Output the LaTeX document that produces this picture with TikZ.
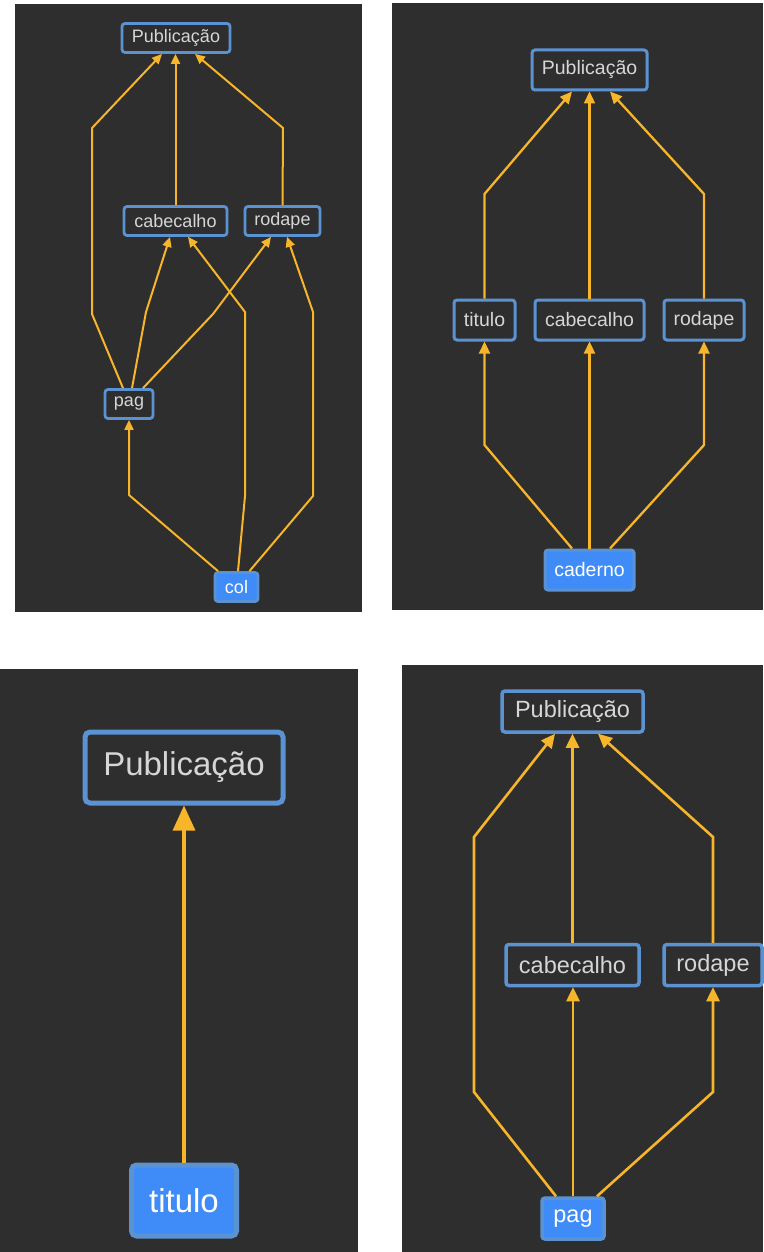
\documentclass[tikz,border=0pt]{standalone}
\usepackage{fontspec}
\setmainfont{Liberation Sans}
\usetikzlibrary{arrows.meta}
\definecolor{bgdark}{RGB}{46,46,46}
\definecolor{boxblue}{RGB}{91,147,210}
\definecolor{fillblue}{RGB}{63,140,248}
\definecolor{edgeorange}{RGB}{246,181,43}
\definecolor{txtgray}{RGB}{214,214,214}
\tikzset{
  box/.style={draw=boxblue, fill=bgdark, rounded corners=3pt, text=txtgray,
    inner sep=0pt, anchor=center},
  rootbox/.style={box, fill=fillblue, text=white},
  edge/.style={draw=edgeorange, line join=miter},
  fs/.style={font=\fontsize{#1}{#1}\selectfont},
}
\begin{document}
\begin{tikzpicture}[x=1pt, y=-1pt]
\useasboundingbox (0,0) rectangle (763,1252);
\fill[white] (0,0) rectangle (763,1252);

% ---------- graph: col ----------
\begin{scope}[box/.append style={line width=2.8pt, fs=18, minimum height=29pt},
              edge/.append style={line width=2pt, -{Triangle[length=10pt,width=9pt]}}]
\fill[bgdark] (15,4) rectangle (362,612);
\node[box, minimum width=108pt] (p1pub) at (176,38) {Publicação};
\node[box, minimum width=103pt] (p1cab) at (175.5,221) {cabecalho};
\node[box, minimum width=75pt]  (p1rod) at (282.5,221) {rodape};
\node[box, minimum width=48pt]  (p1pag) at (129,404) {pag};
\node[rootbox, minimum width=43pt] (p1col) at (236.5,587) {col};
\draw[edge] ([xshift=-6pt]p1pag.north) -- (92,314) -- (92,128) -- ([xshift=-14pt]p1pub.south);
\draw[edge] (p1cab.north) -- (p1cab.north |- p1pub.south);
\draw[edge] (p1rod.north) -- (283,128) -- ([xshift=19pt]p1pub.south);
\draw[edge] ([xshift=3pt]p1pag.north) -- (146,312) -- ([xshift=-5.5pt]p1cab.south);
\draw[edge] ([xshift=14pt]p1pag.north) -- (213,314) -- ([xshift=-11.5pt]p1rod.south);
\draw[edge] ([xshift=1.5pt]p1col.north) -- (245,496) -- (245,312) -- ([xshift=12.5pt]p1cab.south);
\draw[edge] ([xshift=13pt]p1col.north) -- (313,496) -- (313,312) -- ([xshift=4.5pt]p1rod.south);
\draw[edge] ([xshift=-18.5pt]p1col.north) -- (129,495) -- (p1pag.south);
\end{scope}

% ---------- graph: caderno ----------
\begin{scope}[box/.append style={line width=3pt, fs=19.5, minimum height=40pt},
              edge/.append style={line width=2.3pt, -{Triangle[length=12pt,width=11pt]}}]
\fill[bgdark] (392,3) rectangle (763,610);
\node[box, minimum width=115pt] (p2pub) at (589.5,70) {Publicação};
\node[box, minimum width=61pt]  (p2tit) at (484.5,320) {titulo};
\node[box, minimum width=109pt] (p2cab) at (589.5,320) {cabecalho};
\node[box, minimum width=80pt]  (p2rod) at (704,320) {rodape};
\node[rootbox, minimum width=89pt] (p2cad) at (589.5,570) {caderno};
\draw[edge] (p2tit.north) -- (484.5,194) -- ([xshift=-17.5pt]p2pub.south);
\draw[edge] (p2cab.north) -- (p2pub.south);
\draw[edge] (p2rod.north) -- (704,194) -- ([xshift=20.5pt]p2pub.south);
\draw[edge] ([xshift=-17.5pt]p2cad.north) -- (484.5,445) -- (p2tit.south);
\draw[edge] (p2cad.north) -- (p2cab.south);
\draw[edge] ([xshift=20.5pt]p2cad.north) -- (704,445) -- (p2rod.south);
\end{scope}

% ---------- graph: titulo ----------
\begin{scope}[box/.append style={line width=5pt, fs=33, minimum height=71pt, rounded corners=5pt},
              edge/.append style={line width=3.2pt, -{Triangle[length=25pt,width=22pt]}}]
\fill[bgdark] (0,669) rectangle (358,1252);
\node[box, minimum width=198pt] (p3pub) at (184,767.5) {Publicação};
\node[rootbox, minimum width=105pt] (p3tit) at (184,1200.5) {titulo};
\draw[edge] (p3tit.north) -- (p3pub.south);
\end{scope}

% ---------- graph: pag ----------
\begin{scope}[box/.append style={line width=3.5pt, fs=23.5, minimum height=41pt},
              edge/.append style={line width=2.6pt, -{Triangle[length=14pt,width=13pt]}}]
\fill[bgdark] (402,665) rectangle (763,1252);
\node[box, minimum width=141pt] (p4pub) at (572.5,711.5) {Publicação};
\node[box, minimum width=133pt] (p4cab) at (572.5,965) {cabecalho};
\node[box, minimum width=98pt]  (p4rod) at (713,965) {rodape};
\node[rootbox, minimum width=62pt] (p4pag) at (573,1218.5) {pag};
\draw[edge] ([xshift=-17pt]p4pag.north) -- (474,1092) -- (474,837) -- ([xshift=-17.5pt]p4pub.south);
\draw[edge] (p4cab.north) -- (p4pub.south);
\draw[edge] (p4rod.north) -- (713,837) -- ([xshift=25.5pt]p4pub.south);
\draw[edge] (p4pag.north) -- (p4pag.north |- p4cab.south);
\draw[edge] ([xshift=24pt]p4pag.north) -- (713,1092) -- (p4rod.south);
\end{scope}
\end{tikzpicture}
\end{document}
